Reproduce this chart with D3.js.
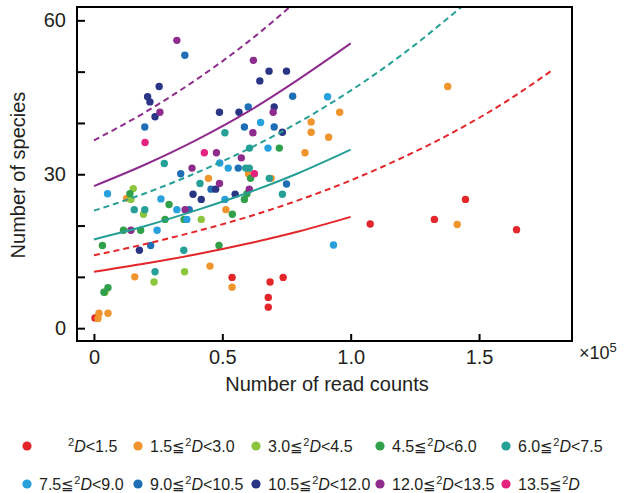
<!DOCTYPE html>
<html><head><meta charset="utf-8">
<script src="https://cdn.jsdelivr.net/npm/d3@7"></script>
<style>body{margin:0;background:#fff}svg{display:block}text{font-family:"Liberation Sans",Arial,sans-serif;fill:#231f20}</style>
</head><body><div id="chart"></div>
<script>
// ---- data (x = read counts, y = number of species) ----
const groupLabels = ["<1.5", "1.5≦|<3.0", "3.0≦|<4.5", "4.5≦|<6.0", "6.0≦|<7.5",
                     "7.5≦|<9.0", "9.0≦|<10.5", "10.5≦|<12.0", "12.0≦|<13.5", "13.5≦|"];
const groupColors = ["#e3262a","#f0952d","#8cc63e","#30a04a","#26a096",
                     "#27a0dc","#1e6fb6","#2b3586","#8e2c8d","#e2237f"];
const ptsRed = [[400,2.0],[53800,9.9],[68600,9.0],[73700,9.9],[67900,6.0],[67900,4.1],[107600,20.3],[132600,21.2],[144700,25.1],[164600,19.2]];
const ptsOrange = [[1560,1.9],[1950,2.9],[5460,2.9],[15900,10.0],[45200,12.1],[53800,8.0],[44600,29.2],[12750,25.3],[51400,23.1],[60200,30.1],[69000,29.2],[82200,34.2],[84600,40.2],[84600,38.2],[91400,37.2],[95700,42.1],[137800,47.1],[141500,20.2]];
const ptsLightGreen = [[15300,27.2],[14400,25.1],[19300,22.2],[41800,21.2],[23400,9.0],[35300,11.0],[4300,7.0]];
const ptsGreen = [[14000,26.2],[29250,24.1],[11500,19.1],[18200,19.1],[27700,21.2],[35100,21.2],[3300,16.1],[3900,7.0],[5460,7.9],[58600,25.1],[59600,26.2],[61000,29.2],[53900,22.2],[72200,35.1],[48700,16.1]];
const ptsTeal = [[15700,23.1],[19800,23.1],[27400,32.1],[41300,28.2],[51000,38.1],[60600,35.1],[59100,31.2],[60500,31.2],[68300,29.2],[73400,26.1],[35000,15.2],[23800,11.0]];
const ptsLightBlue = [[5300,26.2],[26100,25.2],[32300,23.1],[36200,21.2],[24600,19.1],[51000,25.1],[49000,32.2],[52300,31.2],[64900,40.1],[67800,35.1],[91000,45.1],[93300,16.2]];
const ptsBlue = [[35400,53.2],[19800,39.2],[33800,30.1],[37100,23.1],[22100,16.1],[45600,27.1],[56200,31.2],[58600,39.2],[60100,43.1],[70200,39.2],[77400,45.2],[75000,28.1]];
const ptsNavy = [[25400,47.1],[20900,45.1],[21800,44.1],[23800,41.2],[48900,42.1],[56500,42.1],[68200,50.1],[75000,50.1],[64600,48.2],[70200,43.1],[73400,38.2],[38600,26.1],[41800,25.1],[47400,27.1],[55000,26.1],[17700,15.2]];
const ptsPurple = [[32300,56.1],[25700,42.1],[62100,52.2],[61900,38.1],[69800,42.1],[47700,34.2],[57400,33.2],[38200,31.2],[48900,28.2],[60500,27.1],[35500,23.1],[14400,19.1]];
const ptsMagenta = [[19900,36.2],[43000,34.2],[62500,30.1]];
const groupPoints = [ptsRed, ptsOrange, ptsLightGreen, ptsGreen, ptsTeal, ptsLightBlue, ptsBlue, ptsNavy, ptsPurple, ptsMagenta];

// curves
const curveRedSolid = [[0,11.0],[20000,12.6],[40000,14.4],[60000,16.5],[80000,18.9],[100000,21.7]];
const curveRedDashed = [[0,14.2],[20000,16.4],[40000,18.9],[60000,21.7],[80000,25.0],[100000,28.8],[120000,33.2],[140000,38.2],[160000,44.0],[178000,50.1]];
const curveTealSolid = [[0,17.3],[20000,19.9],[40000,23.0],[60000,26.4],[80000,30.3],[100000,34.8]];
const curveTealDashed = [[0,22.9],[20000,26.3],[40000,30.3],[60000,34.9],[80000,40.2],[100000,46.3],[120000,53.3],[140000,61.3],[150000,65.5]];
const curvePurpleSolid = [[0,27.7],[20000,31.9],[40000,36.7],[60000,42.2],[80000,48.6],[100000,55.5]];
const curvePurpleDashed = [[0,36.6],[20000,42.1],[40000,48.5],[60000,55.8],[80000,64.2]];
const curves = [
  {pts: curveRedSolid, color: 0, dash: false},
  {pts: curveRedDashed, color: 0, dash: true},
  {pts: curveTealSolid, color: 4, dash: false},
  {pts: curveTealDashed, color: 4, dash: true},
  {pts: curvePurpleSolid, color: 8, dash: false},
  {pts: curvePurpleDashed, color: 8, dash: true}
];
const xTicks = [0, 50000, 100000, 150000];
const yTicks = [0, 10, 20, 30, 40, 50, 60];
const yLabelTicks = [0, 30, 60];

// ---- drawing ----
const W = 624, H = 493;
const L = 77, R = 572, T = 7, B = 341;
const svg = d3.select("#chart").append("svg").attr("width", W).attr("height", H);
const x = d3.scaleLinear().domain([-6600, 186200]).range([L, R]);
const y = d3.scaleLinear().domain([-2.5, 62.6]).range([B, T]);

svg.append("clipPath").attr("id","clip").append("rect")
  .attr("x", L).attr("y", T).attr("width", R-L).attr("height", B-T);

// points
const gp = svg.append("g").attr("clip-path","url(#clip)");
groupPoints.forEach((pts, i) => {
  gp.selectAll(null).data(pts).enter().append("circle")
    .attr("cx", d => x(d[0])).attr("cy", d => y(d[1])).attr("r", 3.7)
    .attr("fill", groupColors[i]);
});

// curves
const line = d3.line().x(d => x(d[0])).y(d => y(d[1])).curve(d3.curveMonotoneX);
const gl = svg.append("g").attr("clip-path","url(#clip)");
curves.forEach(c => {
  gl.append("path").attr("d", line(c.pts)).attr("fill","none")
    .attr("stroke", groupColors[c.color]).attr("stroke-width", 2)
    .attr("stroke-dasharray", c.dash ? "6,4" : null);
});

// frame
svg.append("rect").attr("x", L).attr("y", T).attr("width", R-L).attr("height", B-T)
  .attr("fill","none").attr("stroke","#000").attr("stroke-width", 2);

// axes
const xAxis = d3.axisBottom(x).tickValues(xTicks).tickSize(-7).tickPadding(9)
  .tickFormat(d => d === 0 ? "0" : d3.format(".1f")(d / 1e5));
const gx = svg.append("g").attr("transform", `translate(0,${B})`).call(xAxis);
gx.select(".domain").remove();
gx.selectAll(".tick line").attr("stroke","#000").attr("stroke-width", 2);
gx.selectAll(".tick text").style("font-size","20px").attr("fill","#231f20");

const yAxis = d3.axisLeft(y).tickValues(yTicks).tickSize(-8).tickPadding(11)
  .tickFormat(d => yLabelTicks.includes(d) ? String(d) : "");
const gy = svg.append("g").attr("transform", `translate(${L},0)`).call(yAxis);
gy.select(".domain").remove();
gy.selectAll(".tick line").attr("stroke","#000").attr("stroke-width", 2);
gy.selectAll(".tick text").style("font-size","20px").attr("fill","#231f20");

// axis titles
svg.append("text").attr("x", 327).attr("y", 391).attr("text-anchor","middle")
  .style("font-size","20px").text("Number of read counts");
svg.append("text").attr("transform","translate(25,175) rotate(-90)").attr("text-anchor","middle")
  .style("font-size","20px").text("Number of species");
const mult = svg.append("text").attr("x", 579).attr("y", 359).style("font-size","18px");
mult.append("tspan").text("×10");
mult.append("tspan").attr("dy", -7).style("font-size","13px").text("5");

// legend
const legX = [27, 138, 256, 380, 506];
const legY = [446, 484];
groupLabels.forEach((lab, i) => {
  const cx = legX[i % 5], cy = legY[Math.floor(i / 5)];
  svg.append("circle").attr("cx", cx).attr("cy", cy).attr("r", 4.6).attr("fill", groupColors[i]);
  const parts = lab.split("|");
  const pre = parts.length > 1 ? parts[0] : "";
  const post = parts.length > 1 ? parts[1] : parts[0];
  const t = svg.append("text").attr("x", i === 0 ? 68 : cx + 12).attr("y", cy + 6)
    .style("font-size","16px").attr("textLength", null);
  if (pre) t.append("tspan").text(pre.replace("≦","")).append("tspan").text("");
  if (pre) t.append("tspan").style("font-size","15px").text("≦");
  t.append("tspan").attr("dy", -6).style("font-size","11px").text("2");
  t.append("tspan").attr("dy", 6).style("font-style","italic").text("D");
  t.append("tspan").text(post);
});
</script></body></html>
